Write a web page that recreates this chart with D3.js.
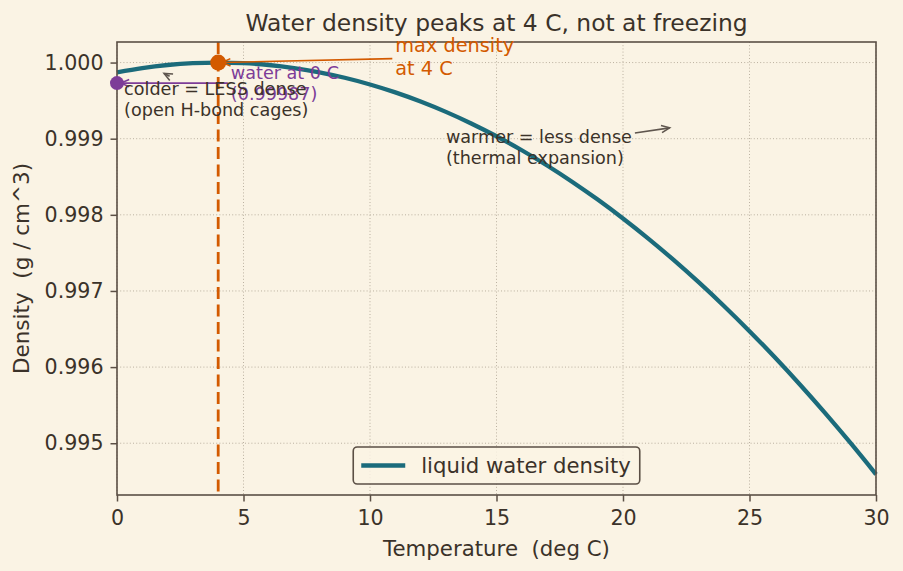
<!DOCTYPE html>
<html>
<head>
<meta charset="utf-8">
<script src="https://cdn.jsdelivr.net/npm/d3@7/dist/d3.min.js"></script>
<style>
  body { margin: 0; background: #faf3e4; }
  text { font-family: "DejaVu Sans", sans-serif; }
</style>
</head>
<body>
<svg id="chart" width="903" height="571"></svg>
<script>
// temperature (deg C) and density (g / cm^3)
const temps = [0, 1, 2, 3, 4, 5, 6, 7, 8, 9, 10, 11, 12, 13, 14, 15,
               16, 17, 18, 19, 20, 21, 22, 23, 24, 25, 26, 27, 28, 29, 30];
const density = [0.999872, 0.999928, 0.999968, 0.999992, 1.000000, 0.999992,
                 0.999968, 0.999928, 0.999872, 0.999800, 0.999712, 0.999608,
                 0.999488, 0.999352, 0.999200, 0.999032, 0.998848, 0.998648,
                 0.998432, 0.998200, 0.997952, 0.997688, 0.997408, 0.997112,
                 0.996800, 0.996472, 0.996128, 0.995768, 0.995392, 0.995000,
                 0.994592];
const xTicks = [0, 5, 10, 15, 20, 25, 30];
const yTicks = [0.995, 0.996, 0.997, 0.998, 0.999, 1.000];
const maxPoint = { t: 4, d: 1.000 };
const freezePoint = { t: 0, d: 0.99973 };

const colors = {
    bg: '#faf3e4',
    ink: '#3b3229',
    spine: '#5b4f45',
    grid: '#b3a999',
    curve: '#1b6b7b',
    orange: '#d35a00',
    purple: '#7d3c98',
    arrowGrey: '#5f564e'
};

const margin = { top: 42, right: 27, bottom: 76, left: 117 };
const width = 903, height = 571;

const svg = d3.select('#chart');
svg.append('rect').attr('width', width).attr('height', height).attr('fill', colors.bg);

const x = d3.scaleLinear().domain([0, 30]).range([margin.left, width - margin.right]);
const y = d3.scaleLinear().domain([0.99432, 1.00027]).range([height - margin.bottom, margin.top]);

const plotL = x.range()[0], plotR = x.range()[1];
const plotT = y.range()[1], plotB = y.range()[0];

// grid
const grid = svg.append('g');
grid.selectAll('line.gx').data(xTicks).join('line')
    .attr('x1', d => x(d)).attr('x2', d => x(d))
    .attr('y1', plotT).attr('y2', plotB)
    .attr('stroke', colors.grid).attr('stroke-width', 0.9).attr('stroke-dasharray', '1,2.2');
grid.selectAll('line.gy').data(yTicks).join('line')
    .attr('x1', plotL).attr('x2', plotR)
    .attr('y1', d => y(d)).attr('y2', d => y(d))
    .attr('stroke', colors.grid).attr('stroke-width', 0.9).attr('stroke-dasharray', '1,2.2');

// density curve
const line = d3.line()
    .x((d, i) => x(temps[i]))
    .y(d => y(d))
    .curve(d3.curveMonotoneX);

svg.append('path')
    .datum(density)
    .attr('d', line)
    .attr('fill', 'none')
    .attr('stroke', colors.curve)
    .attr('stroke-width', 4.3);

// 4 C reference line
svg.append('line')
    .attr('x1', x(maxPoint.t)).attr('x2', x(maxPoint.t))
    .attr('y1', plotT).attr('y2', plotB)
    .attr('stroke', colors.orange).attr('stroke-width', 2.8)
    .attr('stroke-dasharray', '12,5.5');

// axes
const xAxis = d3.axisBottom(x).tickValues(xTicks).tickFormat(d3.format('d'))
    .tickSize(6.5).tickPadding(9);
const yAxis = d3.axisLeft(y).tickValues(yTicks).tickFormat(d3.format('.3f'))
    .tickSize(6.5).tickPadding(7);

function styleAxis(g) {
    g.select('.domain').remove();
    g.selectAll('.tick line').attr('stroke', colors.spine).attr('stroke-width', 1.5);
    g.selectAll('.tick text').attr('fill', colors.ink)
        .style('font-family', '"DejaVu Sans", sans-serif').style('font-size', '20.6px');
}
svg.append('g').attr('transform', `translate(0,${plotB})`).call(xAxis).call(styleAxis);
svg.append('g').attr('transform', `translate(${plotL},0)`).call(yAxis).call(styleAxis);

// spines
svg.append('rect')
    .attr('x', plotL).attr('y', plotT)
    .attr('width', plotR - plotL).attr('height', plotB - plotT)
    .attr('fill', 'none').attr('stroke', colors.spine).attr('stroke-width', 1.6);

// markers
svg.append('circle').attr('cx', x(maxPoint.t)).attr('cy', y(maxPoint.d)).attr('r', 8)
    .attr('fill', colors.orange);
svg.append('circle').attr('cx', x(freezePoint.t)).attr('cy', y(freezePoint.d)).attr('r', 7)
    .attr('fill', colors.purple);

// annotations
function addNote(lines, tx, ty, size, color) {
    const t = svg.append('text').attr('fill', color).style('font-size', size + 'px');
    lines.forEach((s, i) => {
        t.append('tspan').attr('x', 0).attr('dy', i === 0 ? 0 : size * 1.2).text(s);
    });
    const bb = t.node().getBBox();
    const dx = x(tx) - bb.x;
    const dy = y(ty) - (bb.y + bb.height / 2);
    t.attr('transform', `translate(${dx},${dy})`);
    return { x: bb.x + dx, y: bb.y + dy, width: bb.width, height: bb.height };
}

function addArrow(box, px, py, color) {
    const cx = box.x + box.width / 2, cy = box.y + box.height / 2;
    const tx = x(px), ty = y(py);
    const dx = tx - cx, dy = ty - cy;
    const hw = box.width / 2 + 3, hh = box.height / 2 + 3;
    const t = Math.min(dx ? hw / Math.abs(dx) : Infinity, dy ? hh / Math.abs(dy) : Infinity);
    const sx = cx + dx * t, sy = cy + dy * t;
    const len = Math.hypot(tx - sx, ty - sy);
    const ux = (tx - sx) / len, uy = (ty - sy) / len;
    const ex = tx - ux * 4, ey = ty - uy * 4;
    svg.append('line')
        .attr('x1', sx).attr('y1', sy).attr('x2', ex).attr('y2', ey)
        .attr('stroke', color).attr('stroke-width', 1.6);
    const hl = 9, ang = 0.42;
    const a = Math.atan2(uy, ux);
    const p1 = [ex - hl * Math.cos(a - ang), ey - hl * Math.sin(a - ang)];
    const p2 = [ex - hl * Math.cos(a + ang), ey - hl * Math.sin(a + ang)];
    svg.append('path')
        .attr('d', `M${p1[0]},${p1[1]}L${ex},${ey}L${p2[0]},${p2[1]}`)
        .attr('fill', 'none').attr('stroke', color).attr('stroke-width', 1.6);
}

const maxBox = addNote(['max density', 'at 4 C'], 11, 1.00007, 19.3, colors.orange);
addArrow(maxBox, maxPoint.t, maxPoint.d, colors.orange);

const freezeBox = addNote(['water at 0 C', '(0.99987)'], 4.5, freezePoint.d, 17.6, colors.purple);
addArrow(freezeBox, freezePoint.t, freezePoint.d, colors.purple);

const colderBox = addNote(['colder = LESS dense', '(open H-bond cages)'], 0.28, 0.99951, 17.6, colors.ink);
addArrow(colderBox, 1.72, 0.99988, colors.arrowGrey);

const warmerBox = addNote(['warmer = less dense', '(thermal expansion)'], 13.0, 0.99889, 17.6, colors.ink);
addArrow(warmerBox, 22, 0.99915, colors.arrowGrey);

// legend
const legend = svg.append('g');
const legText = legend.append('text')
    .attr('fill', colors.ink).style('font-size', '21.2px')
    .text('liquid water density');
const tw = legText.node().getComputedTextLength();
const legW = 8 + 44 + 16 + tw + 9, legH = 37;
const legX = (plotL + plotR) / 2 - legW / 2, legY = plotB - 11 - legH;
legend.insert('rect', 'text')
    .attr('x', legX).attr('y', legY).attr('width', legW).attr('height', legH)
    .attr('rx', 4).attr('fill', colors.bg).attr('fill-opacity', 0.85)
    .attr('stroke', colors.spine).attr('stroke-width', 1.6);
legend.append('line')
    .attr('x1', legX + 8).attr('x2', legX + 52)
    .attr('y1', legY + legH / 2).attr('y2', legY + legH / 2)
    .attr('stroke', colors.curve).attr('stroke-width', 4.3);
legText.attr('x', legX + 68).attr('y', legY + legH / 2 + 7);

// title and axis labels
svg.append('text')
    .attr('x', (plotL + plotR) / 2).attr('y', 31)
    .attr('text-anchor', 'middle').attr('fill', colors.ink)
    .style('font-size', '23.4px')
    .text('Water density peaks at 4 C, not at freezing');

svg.append('text')
    .attr('x', (plotL + plotR) / 2).attr('y', 556)
    .attr('text-anchor', 'middle').attr('fill', colors.ink)
    .style('font-size', '21.3px')
    .attr('xml:space', 'preserve')
    .text('Temperature  (deg C)');

svg.append('text')
    .attr('transform', `translate(29,${(plotT + plotB) / 2}) rotate(-90)`)
    .attr('text-anchor', 'middle').attr('fill', colors.ink)
    .style('font-size', '21.5px')
    .attr('xml:space', 'preserve')
    .text('Density  (g / cm^3)');
</script>
</body>
</html>
